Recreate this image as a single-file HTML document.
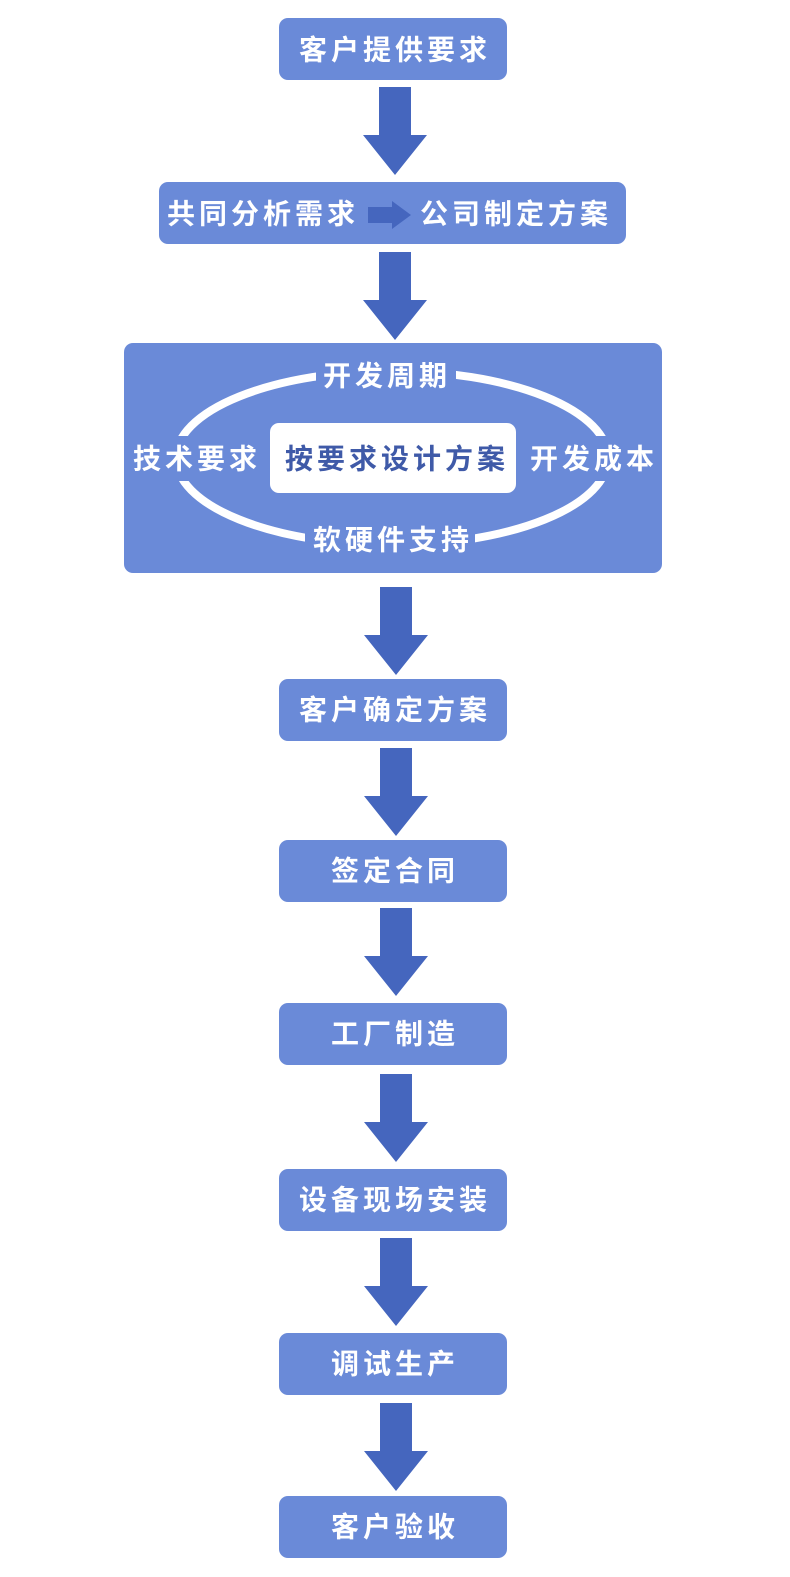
<!DOCTYPE html>
<html><head><meta charset="utf-8"><style>
html,body{margin:0;padding:0;background:#fff;}
svg{display:block}
text{font-family:"Liberation Sans","Noto Sans CJK SC",sans-serif;fill:#fff;font-size:28px;letter-spacing:4px;text-anchor:middle;dominant-baseline:central;font-weight:bold;}
</style></head><body>
<svg width="790" height="1577" viewBox="0 0 790 1577" xmlns="http://www.w3.org/2000/svg">
<defs>
<g id="arr"><path d="M-16 0 H16 V48 H32 L0 88 L-32 48 H-16 Z" fill="#4566be"/></g>
</defs>
<rect x="279" y="18" width="228" height="62" rx="9" fill="#6a8ad8"/>
<text x="395" y="50">客户提供要求</text>
<use href="#arr" x="395" y="87"/>
<rect x="159" y="182" width="467" height="62" rx="9" fill="#6a8ad8"/>
<text x="263" y="214">共同分析需求</text>
<text x="516" y="214">公司制定方案</text>
<path d="M368 207 H392 V201 L411 215 L392 229 V223 H368 Z" fill="#4566be"/>
<use href="#arr" x="395" y="252"/>
<rect x="124" y="343" width="538" height="230" rx="9" fill="#6a8ad8"/>
<ellipse cx="392" cy="458" rx="216" ry="87" fill="none" stroke="#fff" stroke-width="8"/>
<rect x="316" y="355" width="140" height="40" fill="#6a8ad8"/>
<rect x="305" y="520" width="170" height="42" fill="#6a8ad8"/>
<rect x="150" y="436" width="120" height="45" fill="#6a8ad8"/>
<rect x="516" y="436" width="130" height="45" fill="#6a8ad8"/>
<text x="387" y="376">开发周期</text>
<text x="197" y="459">技术要求</text>
<text x="594" y="459">开发成本</text>
<text x="393" y="540">软硬件支持</text>
<rect x="270" y="423" width="246" height="70" rx="9" fill="#fff"/>
<text x="397" y="459" style="fill:#3f5aa8">按要求设计方案</text>
<use href="#arr" x="396" y="587"/>
<rect x="279" y="679" width="228" height="62" rx="9" fill="#6a8ad8"/>
<text x="395" y="710">客户确定方案</text>
<use href="#arr" x="396" y="748"/>
<rect x="279" y="840" width="228" height="62" rx="9" fill="#6a8ad8"/>
<text x="395" y="871">签定合同</text>
<use href="#arr" x="396" y="908"/>
<rect x="279" y="1003" width="228" height="62" rx="9" fill="#6a8ad8"/>
<text x="395" y="1034">工厂制造</text>
<use href="#arr" x="396" y="1074"/>
<rect x="279" y="1169" width="228" height="62" rx="9" fill="#6a8ad8"/>
<text x="395" y="1200">设备现场安装</text>
<use href="#arr" x="396" y="1238"/>
<rect x="279" y="1333" width="228" height="62" rx="9" fill="#6a8ad8"/>
<text x="395" y="1364">调试生产</text>
<use href="#arr" x="396" y="1403"/>
<rect x="279" y="1496" width="228" height="62" rx="9" fill="#6a8ad8"/>
<text x="395" y="1527">客户验收</text>
</svg>
</body></html>
